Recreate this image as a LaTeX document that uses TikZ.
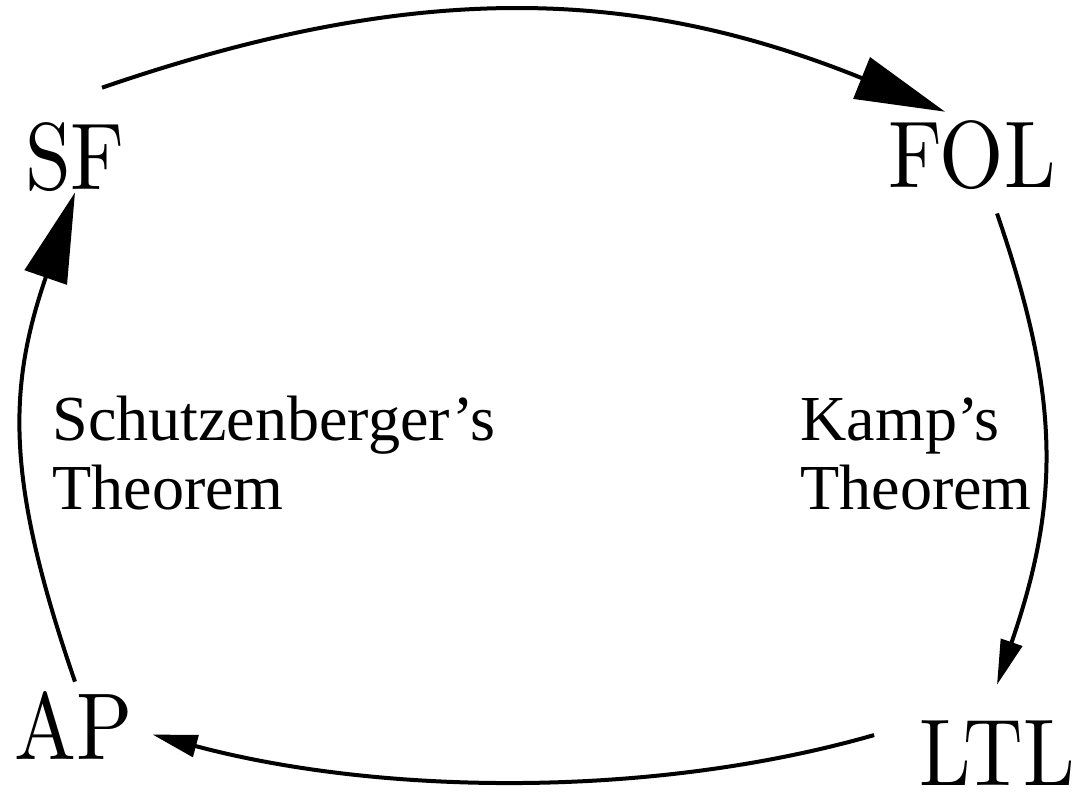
\documentclass[tikz,border=0pt]{standalone}
\usepackage{fontspec}
\newfontfamily\thmfont{Liberation Serif}[Ligatures=TeX]
\newfontfamily\lmten{lmroman10-regular}[Extension=.otf]
\usetikzlibrary{arrows.meta}

\newcommand{\tall}[1]{\scalebox{1}[1.15]{#1}}

\begin{document}
\begin{tikzpicture}[
  x=0.02cm, y=0.02cm,
  logic/.style={inner sep=0pt, anchor=base, font=\lmten\fontsize{47}{50}\selectfont},
  thm/.style={inner sep=0pt, anchor=base west, align=left,
              font=\thmfont\fontsize{36.5}{39.7}\selectfont},
  bigarrow/.style={-{Triangle[length=1.8cm, width=0.88cm]}, line width=0.08cm},
  smallarrow/.style={-{Triangle[length=0.9cm, width=0.44cm]}, line width=0.08cm}
]
  \useasboundingbox (0,0) rectangle (1083,792);

  \node[logic] (sf)  at (75,602)  {\tall{SF}};
  \node[logic] (fol) at (972,604) {\tall{FOL}};
  \node[logic] (ltl) at (997,7)   {\tall{LTL}};
  \node[logic] (ap)  at (74,32)   {\tall{AP}};

  % base anchor sits on the last line
  \node[thm] (schutz) at (52,282)  {Schutzenberger's\\Theorem};
  \node[thm] (kamp)   at (800,282) {Kamp's\\Theorem};

  \draw[bigarrow] ([shift={(27,35)}]sf.north) to[out=19, in=158, looseness=1.01] ([shift={(-27,9)}]fol.north);
  \draw[smallarrow] ([shift={(25,-23)}]fol.south) to[out=-71, in=71, looseness=1.06] ([shift={(0,35)}]ltl.north);
  \draw[smallarrow] ([shift={(-44.5,17.5)}]ltl.west) to[out=196, in=-15, looseness=0.83] ([shift={(19,-8.5)}]ap.east);
  \draw[bigarrow] ([shift={(1,10)}]ap.north) to[out=109, in=251, looseness=1.1] (sf.south);
\end{tikzpicture}
\end{document}
